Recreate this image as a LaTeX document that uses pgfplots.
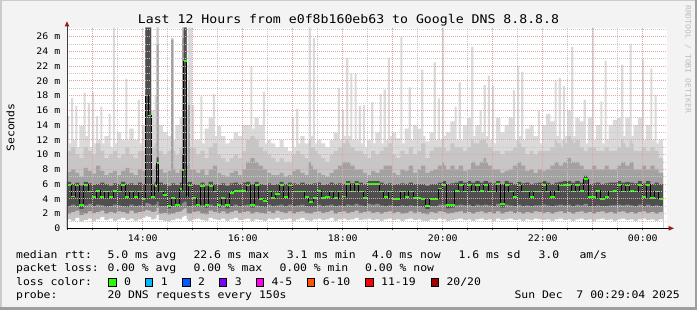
\documentclass[border=0pt]{standalone}
\usepackage{fontspec}
\setmainfont{DejaVu Sans Mono}[FakeStretch=1.1]
\usepackage{pgfplots}
\usepackage{pgfplotstable}
\pgfplotsset{compat=1.18}
\definecolor{bg}{HTML}{F3F3F3}
\definecolor{shadea}{HTML}{CBCBCB}
\definecolor{shadeb}{HTML}{9E9E9E}
\definecolor{smokeVL}{HTML}{DADADA}
\definecolor{smokeL}{HTML}{C6C6C6}
\definecolor{smokeM}{HTML}{A2A2A2}
\definecolor{smokeMD}{HTML}{8A8A8A}
\definecolor{smokeD}{HTML}{4F4F4F}
\definecolor{mgrid}{HTML}{E4A4A4}
\definecolor{mingrid}{HTML}{C8C8C8}
\definecolor{arrowred}{HTML}{A01818}
\definecolor{lc0}{HTML}{26FF00}
\definecolor{lc1}{HTML}{00B8FF}
\definecolor{lc2}{HTML}{0059FF}
\definecolor{lc3}{HTML}{7E00FF}
\definecolor{lc4}{HTML}{FF00EA}
\definecolor{lc6}{HTML}{FF5500}
\definecolor{lc11}{HTML}{FF0000}
\definecolor{lc20}{HTML}{A10000}
\definecolor{wm}{HTML}{BDBDBD}
% x = minutes after 12:29:04 ; values in ms (smoke band edges and median)
\pgfplotstableread{
x ll lm ld med hd hm hx hl
0 1.2 2.0 3.0 5.9 6.3 7.6 10.5 15.2
2.5 1.2 2.0 3.0 5.9 6.3 7.6 10.5 11.5
5 1.0 2.2 3.2 4.3 6.0 8.0 11.0 17.7
7.5 1.0 2.2 3.2 4.3 6.0 8.0 11.0 12.0
10 1.4 2.4 3.0 5.8 6.2 7.5 10.0 16.6
12.5 1.4 2.4 3.0 5.8 6.2 7.5 10.0 11.0
15 0.9 1.8 2.6 3.2 5.8 7.0 9.5 13.9
20 1.1 2.0 3.1 5.9 6.3 8.2 11.0 18.4
22.5 1.1 2.0 3.1 5.9 6.3 8.2 11.0 12.5
25 1.3 2.3 3.3 5.0 6.1 7.8 10.5 17.0
27.5 1.3 2.3 3.3 5.0 6.1 7.8 10.5 11.0
30 1.0 2.1 3.0 4.2 5.9 7.4 10.0 18.5
32.5 1.0 2.1 3.0 4.2 5.9 7.4 10.0 11.5
35 1.2 2.2 3.2 5.1 6.0 8.5 11.5 15.2
37.5 1.2 2.2 3.2 5.1 6.0 8.5 11.5 12.0
40 1.5 2.4 3.1 4.2 6.2 7.8 10.5 16.5
42.5 1.5 2.4 3.1 4.2 6.2 7.8 10.5 11.5
45 1.1 2.0 2.9 5.0 6.0 7.2 9.5 12.5
50 1.3 2.2 3.0 4.2 5.8 7.5 10.0 15.5
52.5 1.3 2.2 3.0 4.2 5.8 7.5 10.0 11.0
55 1.0 2.1 3.2 5.1 6.1 7.8 10.5 27.2
57.5 1.0 2.1 3.2 5.1 6.1 7.8 10.5 11.5
60 1.2 2.3 3.1 5.0 6.0 7.2 9.5 13.0
65 1.4 2.2 3.0 5.9 6.3 7.8 10.0 12.0
70 1.1 2.0 2.9 4.2 6.0 8.2 11.0 20.3
72.5 1.1 2.0 2.9 4.2 6.0 8.2 11.0 12.0
75 1.3 2.4 3.2 5.0 6.1 7.5 10.0 13.5
80 1.0 2.1 3.0 4.2 5.9 7.2 9.5 12.0
85 1.2 2.2 3.1 5.0 6.2 8.0 10.5 17.4
87.5 1.2 2.2 3.1 5.0 6.2 8.0 10.5 11.5
90 1.4 2.3 3.0 4.0 6.0 7.8 10.5 14.0
94 1.6 2.5 3.4 18.0 27.2 27.2 27.2 27.2
97.5 1.5 2.4 3.3 15.3 27.2 27.2 27.2 27.2
101 1.2 2.2 3.1 4.2 6.0 8.0 11.0 16.0
105 1.3 2.3 3.2 5.7 6.3 8.5 11.5 18.0
107.5 1.8 2.8 3.6 8.8 9.6 25.0 27.2 27.2
110 1.1 2.0 3.0 5.0 6.2 8.0 10.5 14.0
115 1.0 2.1 3.0 4.5 6.0 7.5 10.0 13.0
120 0.9 1.9 2.7 3.0 5.8 7.8 10.5 12.5
125 1.1 2.0 3.0 4.1 6.1 25.5 25.8 25.8
127.5 1.1 2.0 3.0 4.1 6.1 8.0 10.5 12.0
130 1.3 2.2 2.9 3.2 5.9 7.5 10.0 14.0
135 1.2 2.3 3.1 5.3 6.2 8.0 11.0 15.0
138 1.5 2.5 3.4 7.9 10.0 25.8 27.2 27.2
140 1.7 2.7 3.6 22.7 27.2 27.2 27.2 27.2
143.5 1.2 2.1 3.0 4.3 6.1 8.5 11.0 16.0
145 1.0 2.0 3.0 5.8 6.3 16.7 20.0 27.2
147.5 1.0 2.0 3.0 5.8 6.3 8.0 11.0 27.2
150 1.2 2.2 3.1 4.1 6.0 8.0 11.0 16.7
152.5 1.2 2.2 3.1 4.1 6.0 8.0 11.0 12.0
155 1.3 2.3 2.9 3.2 5.9 7.5 10.0 12.0
160 1.1 2.0 3.1 5.7 6.2 8.0 10.5 17.9
162.5 1.1 2.0 3.1 5.7 6.2 8.0 10.5 11.5
165 1.0 1.9 2.8 3.2 5.8 7.2 9.5 13.5
170 1.4 2.4 3.2 5.7 6.3 8.0 11.0 15.0
175 1.2 2.2 3.0 5.0 6.0 8.5 11.5 18.2
177.5 1.2 2.2 3.0 5.0 6.0 8.5 11.5 12.5
180 1.1 2.1 2.8 3.2 5.9 7.5 10.0 13.9
185 1.3 2.3 3.1 4.1 6.1 7.2 9.5 12.5
190 1.0 2.0 2.7 3.2 5.8 7.0 9.0 11.5
195 1.2 2.2 3.0 4.8 6.1 7.5 9.5 12.0
200 1.4 2.4 3.2 5.1 6.2 7.8 10.0 13.0
205 1.1 2.1 3.0 5.1 6.0 7.2 9.5 12.5
210 1.2 2.2 3.1 5.1 6.2 8.0 10.5 14.0
215 1.3 2.3 3.2 5.8 6.3 9.0 12.0 14.0
220 1.0 2.0 2.8 3.2 6.0 9.5 12.5 22.0
222.5 1.0 2.0 2.8 3.2 6.0 9.5 12.5 13.5
225 1.2 2.2 3.1 5.9 6.3 9.0 12.0 15.0
230 1.1 2.1 3.0 4.0 6.0 8.5 11.0 14.0
235 1.0 2.0 2.9 3.7 5.9 8.0 10.5 18.5
237.5 1.0 2.0 2.9 3.7 5.9 8.0 10.5 11.5
240 1.3 2.3 3.2 5.0 6.1 7.5 10.0 12.0
245 1.2 2.1 3.0 4.1 5.9 7.2 9.5 11.5
250 1.4 2.4 3.1 4.6 6.0 7.2 9.0 11.0
255 1.1 2.2 3.2 5.9 6.3 7.5 9.5 12.0
260 1.2 2.1 3.0 4.2 6.0 7.0 9.0 11.0
265 1.3 2.3 3.2 5.8 6.2 7.2 9.0 10.5
270 1.0 2.0 3.0 5.0 6.1 7.8 10.0 15.1
272.5 1.0 2.0 3.0 5.0 6.1 7.8 10.0 11.0
275 1.2 2.2 3.1 5.0 6.0 8.0 10.5 16.2
277.5 1.2 2.2 3.1 5.0 6.0 8.0 10.5 11.5
280 1.4 2.3 3.2 5.0 6.2 7.5 10.0 12.5
285 1.1 2.1 3.0 4.2 6.0 7.2 9.5 11.5
290 1.0 2.0 2.9 3.6 6.0 9.0 12.0 27.2
292.5 1.0 2.0 2.9 3.6 6.0 8.5 11.0 12.5
295 1.2 2.2 3.0 4.1 6.1 8.0 11.0 25.8
297.5 1.2 2.2 3.0 4.1 6.1 8.0 10.5 11.5
300 1.3 2.3 3.2 5.1 6.2 7.5 10.0 12.0
305 1.1 2.1 3.0 4.1 5.9 7.2 9.5 11.5
310 1.2 2.2 3.1 4.2 6.0 7.0 9.0 11.0
315 1.4 2.4 3.2 5.0 6.2 7.5 10.0 12.0
320 1.0 2.0 3.0 4.1 6.0 8.0 10.5 13.0
325 1.2 2.2 3.1 5.0 6.1 8.5 11.0 19.0
327.5 1.2 2.2 3.1 5.0 6.1 8.5 11.0 12.0
330 1.3 2.3 3.0 4.3 6.0 9.0 11.5 16.0
332.5 1.3 2.3 3.0 4.3 6.0 9.0 11.5 12.5
335 1.1 2.1 3.2 6.0 6.4 9.0 12.0 23.1
337.5 1.1 2.1 3.2 6.0 6.4 9.0 11.5 12.5
340 1.2 2.2 3.1 5.0 6.1 8.5 11.0 21.0
342.5 1.2 2.2 3.1 5.0 6.1 8.5 11.0 12.0
345 1.4 2.4 3.3 6.0 6.4 8.0 10.5 21.0
347.5 1.4 2.4 3.3 6.0 6.4 8.0 10.5 12.0
350 1.1 2.1 3.1 5.0 6.2 8.0 10.5 16.6
352.5 1.1 2.1 3.1 5.0 6.2 8.0 10.5 11.5
355 1.2 2.2 3.0 4.1 6.0 7.5 10.0 16.7
357.5 1.2 2.2 3.0 4.1 6.0 7.5 10.0 11.0
360 1.3 2.3 3.3 6.0 6.4 7.2 9.5 12.0
365 1.1 2.1 3.2 6.0 6.4 7.8 10.5 17.1
367.5 1.1 2.1 3.2 6.0 6.4 7.8 10.5 11.5
370 1.2 2.2 3.3 6.0 6.4 7.5 10.0 13.0
375 1.0 2.0 3.1 5.0 6.2 8.0 10.5 18.2
377.5 1.0 2.0 3.1 5.0 6.2 8.0 10.5 11.5
380 1.2 2.2 3.0 4.2 6.0 8.5 11.0 18.8
382.5 1.2 2.2 3.0 4.2 6.0 8.5 11.0 12.0
385 1.3 2.3 3.1 5.0 6.1 8.5 11.5 23.1
387.5 1.3 2.3 3.1 5.0 6.1 8.5 11.5 12.5
390 1.1 2.1 3.0 4.0 5.9 7.5 10.0 13.0
395 1.2 2.2 3.0 4.0 6.0 7.2 9.5 12.2
400 1.0 2.0 3.1 5.0 6.1 8.0 10.5 26.0
402.5 1.0 2.0 3.1 5.0 6.1 8.0 10.5 11.5
405 1.2 2.1 3.0 4.2 6.0 7.8 10.0 13.5
410 1.3 2.3 3.1 5.0 6.2 8.5 11.0 19.1
412.5 1.3 2.3 3.1 5.0 6.2 8.5 11.0 12.0
415 1.1 2.1 3.0 4.1 6.0 7.5 10.0 14.0
420 1.2 2.2 3.0 4.1 6.0 8.0 10.5 13.5
425 1.0 2.0 2.9 4.0 6.0 8.5 11.5 21.5
427.5 1.0 2.0 2.9 4.0 6.0 8.5 11.5 12.5
430 1.0 1.9 2.6 3.0 5.8 7.5 9.5 11.8
435 1.2 2.2 3.0 4.0 6.0 7.8 10.5 13.0
440 1.1 2.1 3.0 4.0 6.0 8.0 11.0 22.5
442.5 1.1 2.1 3.0 4.0 6.0 8.0 11.0 12.0
445 1.3 2.3 3.2 5.4 6.2 8.5 11.0 17.6
447.5 1.3 2.3 3.2 5.4 6.2 8.5 11.0 12.0
450 1.2 2.2 3.2 5.9 6.4 9.0 12.0 27.2
452.5 1.2 2.2 3.2 5.9 6.4 8.5 11.0 12.5
455 1.0 2.0 2.7 3.2 6.0 8.0 10.5 13.0
460 1.1 2.1 2.8 3.2 6.1 8.5 11.5 14.5
465 1.2 2.2 3.1 5.1 6.2 8.0 11.0 16.5
467.5 1.2 2.2 3.1 5.1 6.2 8.0 11.0 12.0
470 1.3 2.3 3.2 5.9 6.4 8.5 11.0 19.8
472.5 1.3 2.3 3.2 5.9 6.4 8.5 11.0 12.0
475 1.1 2.1 3.1 5.0 6.2 7.8 10.5 14.0
480 1.2 2.2 3.2 5.9 6.4 8.0 11.0 15.0
485 1.0 2.0 3.0 5.0 6.2 9.0 12.0 24.6
487.5 1.0 2.0 3.0 5.0 6.2 9.0 11.5 12.5
490 1.2 2.2 3.2 5.9 6.4 8.5 11.5 14.0
495 1.3 2.3 3.1 5.1 6.2 9.0 12.0 16.0
497.5 1.3 2.3 3.1 5.1 6.2 9.0 12.0 13.0
500 1.1 2.1 3.2 5.9 6.4 9.5 12.0 19.4
502.5 1.1 2.1 3.2 5.9 6.4 9.0 11.5 12.5
505 1.2 2.2 3.1 5.0 6.2 8.5 11.0 20.7
507.5 1.2 2.2 3.1 5.0 6.2 8.5 11.0 12.0
510 1.0 2.0 3.0 5.0 6.1 8.0 10.5 19.3
512.5 1.0 2.0 3.0 5.0 6.1 8.0 10.5 11.5
515 1.3 2.3 3.3 6.0 6.4 8.0 10.5 15.0
520 1.1 2.0 2.8 3.3 6.0 7.5 10.0 13.0
525 1.2 2.2 3.2 5.9 6.4 7.8 10.5 14.0
530 1.3 2.3 3.1 5.0 6.2 8.0 10.5 15.0
535 1.1 2.1 3.0 4.2 6.0 8.5 11.0 18.7
537.5 1.1 2.1 3.0 4.2 6.0 8.5 11.0 12.0
540 1.2 2.2 3.2 5.8 6.3 9.0 12.0 22.0
542.5 1.2 2.2 3.2 5.8 6.3 9.0 11.5 12.5
545 1.0 2.0 3.0 5.0 6.1 8.5 11.0 21.2
547.5 1.0 2.0 3.0 5.0 6.1 8.5 11.0 12.0
550 1.2 2.2 3.1 5.0 6.2 7.8 10.0 13.5
555 1.1 2.1 3.0 4.2 6.0 8.0 10.5 14.0
560 1.3 2.3 3.1 5.0 6.1 7.5 10.0 12.5
565 1.2 2.2 3.1 5.0 6.2 8.0 10.5 16.0
567.5 1.2 2.2 3.1 5.0 6.2 8.0 10.5 11.5
570 1.1 2.1 3.2 5.9 6.4 7.8 10.5 14.0
575 1.2 2.2 3.1 5.0 6.2 8.0 10.5 15.5
580 1.0 2.0 3.0 4.2 6.0 8.5 11.0 14.5
585 1.2 2.2 3.1 5.0 6.2 9.0 12.0 20.0
587.5 1.2 2.2 3.1 5.0 6.2 9.0 11.5 12.5
590 1.3 2.3 3.2 5.8 6.3 8.5 11.5 20.4
592.5 1.3 2.3 3.2 5.8 6.3 8.5 11.0 12.0
595 1.1 2.1 3.1 5.9 6.4 9.0 12.0 19.3
597.5 1.1 2.1 3.1 5.9 6.4 9.0 11.5 12.5
600 1.2 2.2 3.2 5.9 6.4 9.5 12.5 16.0
605 1.0 2.0 3.0 5.0 6.2 9.0 12.0 24.6
607.5 1.0 2.0 3.0 5.0 6.2 9.0 11.5 12.5
610 1.2 2.2 3.2 5.9 6.4 9.0 12.0 15.0
615 1.3 2.3 3.1 5.1 6.2 8.5 11.0 14.5
620 1.1 2.1 3.3 6.7 7.1 8.0 10.5 17.4
622.5 1.1 2.1 3.3 6.7 7.1 8.0 10.5 11.5
625 1.2 2.2 3.0 4.2 6.0 8.0 11.0 15.0
630 1.0 2.0 3.0 4.2 6.1 8.5 11.0 27.2
632.5 1.0 2.0 3.0 4.2 6.1 8.5 11.0 12.0
635 1.2 2.2 3.1 5.1 6.2 8.0 10.5 14.0
640 1.3 2.3 3.0 4.0 6.0 8.0 10.5 17.2
642.5 1.3 2.3 3.0 4.0 6.0 8.0 10.5 11.5
645 1.1 2.1 3.0 4.2 6.1 8.5 11.0 22.7
647.5 1.1 2.1 3.0 4.2 6.1 8.5 11.0 12.0
650 1.2 2.2 3.1 5.0 6.2 8.0 10.5 14.0
655 1.0 2.0 3.1 5.1 6.2 8.0 10.5 14.7
660 1.2 2.2 3.2 5.9 6.4 8.5 11.0 15.0
665 1.3 2.3 3.1 5.0 6.2 9.0 12.0 22.2
667.5 1.3 2.3 3.1 5.0 6.2 9.0 11.5 12.5
670 1.1 2.1 3.2 5.8 6.3 8.5 11.0 15.0
675 1.2 2.2 3.1 5.1 6.2 9.0 12.0 25.0
677.5 1.2 2.2 3.1 5.1 6.2 9.0 11.5 12.5
680 1.0 2.0 3.0 5.0 6.1 8.0 10.5 14.0
685 1.2 2.2 3.2 5.9 6.4 8.0 10.5 15.0
690 1.3 2.3 3.0 4.2 6.1 8.5 11.0 22.9
692.5 1.3 2.3 3.0 4.2 6.1 8.5 11.0 12.0
695 1.1 2.1 3.2 5.9 6.4 8.0 10.5 14.0
700 1.2 2.2 3.0 4.1 6.0 8.5 11.0 21.7
702.5 1.2 2.2 3.0 4.1 6.0 8.5 11.0 12.0
705 1.0 2.0 3.1 5.0 6.2 8.0 10.5 18.1
707.5 1.0 2.0 3.1 5.0 6.2 8.0 10.5 11.5
710 1.2 2.2 3.0 4.0 6.0 7.5 9.5 12.0
715.2 1.2 2.2 3.0 4.0 6.0 7.5 9.5 12.0
}\smoke
\begin{document}
\fontsize{10.4pt}{12pt}\selectfont
\begin{tikzpicture}
\useasboundingbox (0pt,0pt) rectangle (697pt,310pt);
\fill[bg] (0pt,0pt) rectangle (697pt,310pt);
\fill[shadea] (0pt,0pt) rectangle (1.5pt,310pt);
\fill[shadea] (0pt,308.5pt) rectangle (697pt,310pt);
\fill[shadeb] (0pt,0pt) rectangle (697pt,2.5pt);
\fill[shadeb] (694.5pt,0pt) rectangle (697pt,310pt);
\begin{axis}[
  at={(67pt,81.7pt)}, anchor=south west,
  scale only axis, width=600pt, height=200.6pt,
  xmin=0, xmax=720, ymin=0, ymax=27.2,
  axis on top,
  axis background/.style={fill=white},
  axis line style={draw=none},
  xtick={30.93,90.93,150.93,210.93,270.93,330.93,390.93,450.93,510.93,570.93,630.93,690.93},
  xticklabels={,14:00,,16:00,,18:00,,20:00,,22:00,,00:00},
  minor xtick={0.93,60.93,120.93,180.93,240.93,300.93,360.93,420.93,480.93,540.93,600.93,660.93},
  ytick={0,2,...,26},
  yticklabels={0,2 m,4 m,6 m,8 m,10 m,12 m,14 m,16 m,18 m,20 m,22 m,24 m,26 m},
  minor ytick={1,3,...,27},
  grid=both,
  major grid style={mgrid, line width=0.7pt, dash pattern=on 1pt off 1pt},
  minor grid style={mingrid, line width=0.7pt, dash pattern=on 1pt off 1pt},
  xtick pos=bottom, ytick pos=left,
  tick align=outside,
  major tick length=2pt, minor tick length=2pt,
  x tick style={black!70, line width=0.6pt},
  y tick style={draw=none},
  minor y tick style={draw=none},
  tick label style={font=\fontsize{9pt}{10pt}\selectfont},
  yticklabel style={xshift=-1pt},
  xticklabel style={yshift=-1pt},
]
\addplot[fill=smokeVL, draw=none, const plot] table[x=x,y=hl]{\smoke} \closedcycle;
\addplot[fill=smokeL, draw=none, const plot] table[x=x,y=hx]{\smoke} \closedcycle;
\addplot[fill=smokeM, draw=none, const plot] table[x=x,y=hm]{\smoke} \closedcycle;
\addplot[fill=smokeD, draw=none, const plot] table[x=x,y=hd]{\smoke} \closedcycle;
\addplot[fill=smokeMD, draw=none, const plot] table[x=x,y=ld]{\smoke} \closedcycle;
\addplot[fill=smokeL, draw=none, const plot] table[x=x,y=lm]{\smoke} \closedcycle;
\addplot[fill=white, draw=none, const plot] table[x=x,y=ll]{\smoke} \closedcycle;
\addplot[black, line width=0.6pt, const plot, mark=none] table[x=x,y=med]{\smoke};
\addplot[lc0, line width=1.8pt, jump mark left, mark=none] table[x=x,y=med]{\smoke};
\end{axis}
% axes lines and arrows
\draw[black!75, line width=0.8pt] (67pt,81.7pt) -- (67pt,284pt);
\fill[arrowred] (64.6pt,283.5pt) -- (69.4pt,283.5pt) -- (67pt,288.6pt) -- cycle;
\draw[black, line width=1.1pt] (66.6pt,81.7pt) -- (669pt,81.7pt);
\fill[arrowred] (668.5pt,84.1pt) -- (674pt,81.7pt) -- (668.5pt,79.3pt) -- cycle;
% title and labels
\node[anchor=base, inner sep=0pt, font=\fontsize{12pt}{14pt}\selectfont] at (348.5pt,286pt) {Last 12 Hours from e0f8b160eb63 to Google DNS 8.8.8.8};
\node[rotate=90, inner sep=0pt] at (10.5pt,182.5pt) {Seconds};
\node[rotate=-90, anchor=west, inner sep=0pt, text=wm, font=\fontsize{7.4pt}{8pt}\selectfont] at (688pt,305pt) {RRDTOOL / TOBI OETIKER};
% legend line 1
\node[anchor=base west, inner sep=0pt] at (16pt,51.7pt) {median rtt:};
\node[anchor=base west, inner sep=0pt] at (107.3pt,51.7pt) {5.0 ms avg};
\node[anchor=base west, inner sep=0pt] at (193.3pt,51.7pt) {22.6 ms max};
\node[anchor=base west, inner sep=0pt] at (286.7pt,51.7pt) {3.1 ms min};
\node[anchor=base west, inner sep=0pt] at (371.7pt,51.7pt) {4.0 ms now};
\node[anchor=base west, inner sep=0pt] at (458.3pt,51.7pt) {1.6 ms sd};
\node[anchor=base west, inner sep=0pt] at (538.3pt,51.7pt) {3.0};
\node[anchor=base west, inner sep=0pt] at (579.3pt,51.7pt) {am/s};
% legend line 2
\node[anchor=base west, inner sep=0pt] at (16pt,38.3pt) {packet loss:};
\node[anchor=base west, inner sep=0pt] at (107.3pt,38.3pt) {0.00 \% avg};
\node[anchor=base west, inner sep=0pt] at (193.3pt,38.3pt) {0.00 \% max};
\node[anchor=base west, inner sep=0pt] at (279.3pt,38.3pt) {0.00 \% min};
\node[anchor=base west, inner sep=0pt] at (365pt,38.3pt) {0.00 \% now};
% legend line 3
\node[anchor=base west, inner sep=0pt] at (16pt,24.3pt) {loss color:};
\foreach \xx/\cc/\lab in {108.7/lc0/0, 145.3/lc1/1, 182.7/lc2/2, 219.3/lc3/3, 256/lc4/4-5, 307.3/lc6/6-10, 365.7/lc11/11-19, 431/lc20/20\slash 20}{
  \filldraw[fill=\cc, draw=black, line width=0.8pt] ({\xx*1pt},24pt) rectangle ({\xx*1pt+7.5pt},31.5pt);
  \node[anchor=base west, inner sep=0pt] at ({\xx*1pt+15.3pt},24.3pt) {\lab};
}
% legend line 4
\node[anchor=base west, inner sep=0pt] at (16pt,11pt) {probe:};
\node[anchor=base west, inner sep=0pt] at (107.3pt,11pt) {20 DNS requests every 150s};
\node[anchor=base east, inner sep=0pt] at (680pt,11pt) {Sun Dec\ \ 7 00:29:04 2025};
\end{tikzpicture}
\end{document}
